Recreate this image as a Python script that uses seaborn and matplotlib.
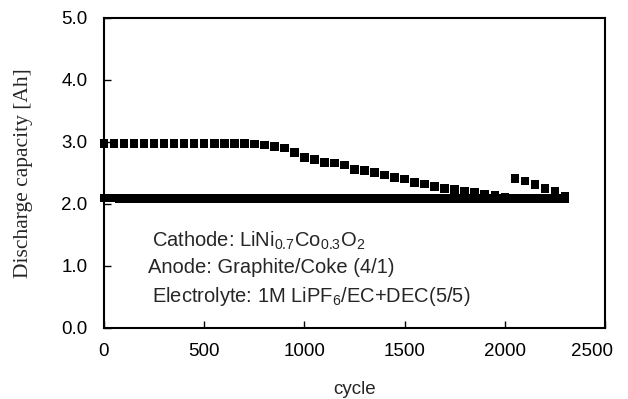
import numpy as np
import pandas as pd
import matplotlib
matplotlib.use("Agg")
import matplotlib.pyplot as plt
import matplotlib.transforms as mtransforms
import seaborn as sns

# Upper series: discharge capacity sampled every 50 cycles
upper_cycles = [0, 50, 100, 150, 200, 250, 300, 350, 400, 450, 500, 550, 600, 650, 700,
                750, 800, 850, 900, 950, 1000, 1050, 1100, 1150, 1200, 1250, 1300, 1350,
                1400, 1450, 1500, 1550, 1600, 1650, 1700, 1750, 1800, 1850, 1900, 1950,
                2000, 2050, 2100, 2150, 2200, 2250, 2300]
upper_capacity = [2.98, 2.98, 2.98, 2.98, 2.98, 2.98, 2.98, 2.98, 2.98, 2.98, 2.98, 2.98,
                  2.98, 2.98, 2.98, 2.97, 2.95, 2.93, 2.90, 2.83, 2.75, 2.72, 2.67, 2.66,
                  2.63, 2.56, 2.54, 2.51, 2.47, 2.43, 2.40, 2.35, 2.32, 2.28, 2.25, 2.23,
                  2.21, 2.19, 2.16, 2.14, 2.11, 2.41, 2.37, 2.31, 2.25, 2.21, 2.12]

# Lower series: densely sampled, every 25 cycles
lower_cycles = list(range(0, 2325, 25))
lower_capacity = [
    2.10, 2.10, 2.10, 2.09, 2.09, 2.09, 2.09, 2.09, 2.09, 2.09,
    2.09, 2.09, 2.09, 2.09, 2.09, 2.09, 2.09, 2.09, 2.09, 2.09,
    2.09, 2.09, 2.09, 2.09, 2.09, 2.09, 2.09, 2.09, 2.09, 2.09,
    2.09, 2.09, 2.09, 2.09, 2.09, 2.09, 2.09, 2.09, 2.09, 2.09,
    2.09, 2.09, 2.09, 2.09, 2.09, 2.09, 2.09, 2.09, 2.09, 2.09,
    2.09, 2.09, 2.09, 2.09, 2.09, 2.09, 2.09, 2.09, 2.09, 2.09,
    2.09, 2.09, 2.09, 2.09, 2.09, 2.09, 2.09, 2.09, 2.09, 2.09,
    2.09, 2.09, 2.09, 2.09, 2.09, 2.09, 2.09, 2.09, 2.09, 2.09,
    2.09, 2.09, 2.09, 2.09, 2.09, 2.09, 2.09, 2.09, 2.09, 2.09,
    2.09, 2.09, 2.09,
]

x_ticks = [0, 500, 1000, 1500, 2000, 2500]
y_ticks = [0.0, 1.0, 2.0, 3.0, 4.0, 5.0]

annotations = [
    r"Cathode: LiNi$_{0.7}$Co$_{0.3}$O$_2$",
    "Anode: Graphite/Coke (4/1)",
    r"Electrolyte: 1M LiPF$_6$/EC+DEC(5/5)",
]

df = pd.concat([
    pd.DataFrame({"cycle": upper_cycles, "capacity": upper_capacity, "series": "upper"}),
    pd.DataFrame({"cycle": lower_cycles, "capacity": lower_capacity, "series": "lower"}),
], ignore_index=True)

sns.set_theme(style="ticks")
plt.rcParams["font.family"] = ["Liberation Sans", "DejaVu Sans"]
plt.rcParams["mathtext.fontset"] = "custom"
plt.rcParams["mathtext.rm"] = "Liberation Sans"
plt.rcParams["mathtext.it"] = "Liberation Sans"

fig = plt.figure(figsize=(6.28, 3.99), dpi=100)
ax = fig.add_axes([0.1656, 0.178, 0.7978, 0.7769])

sns.scatterplot(data=df, x="cycle", y="capacity", hue="series",
                palette={"upper": "black", "lower": "black"},
                marker="s", s=38, linewidth=0, legend=False, ax=ax, clip_on=False)

ax.set_xlim(0, 2500)
ax.set_ylim(0, 5)
ax.set_xticks(x_ticks)
ax.set_xticklabels([str(t) for t in x_ticks])
ax.set_yticks(y_ticks)
ax.set_yticklabels([f"{t:.1f}" for t in y_ticks])
ax.tick_params(axis="both", direction="in", length=5, width=1, colors="black",
               labelsize=13.5, top=False, right=False)
ax.tick_params(axis="x", pad=11)
ax.tick_params(axis="y", pad=12)
for sp in ax.spines.values():
    sp.set_visible(True)
    sp.set_color("black")
    sp.set_linewidth(1.5)

# keep the last x tick label inside the figure edge
last = ax.get_xticklabels()[-1]
last.set_transform(last.get_transform() +
                   mtransforms.ScaledTranslation(-0.13, 0, fig.dpi_scale_trans))

ax.set_xlabel("cycle", fontsize=13.5, labelpad=15)
ax.set_ylabel("Discharge capacity [Ah]", fontsize=15.5, family="Liberation Serif", labelpad=20)

ann_pos = [(0.095, 0.281), (0.087, 0.194), (0.095, 0.101)]
for txt, (tx, ty) in zip(annotations, ann_pos):
    ax.text(tx, ty, txt, transform=ax.transAxes, fontsize=14.5, va="center", ha="left")

fig.savefig("out.png", dpi=100)
